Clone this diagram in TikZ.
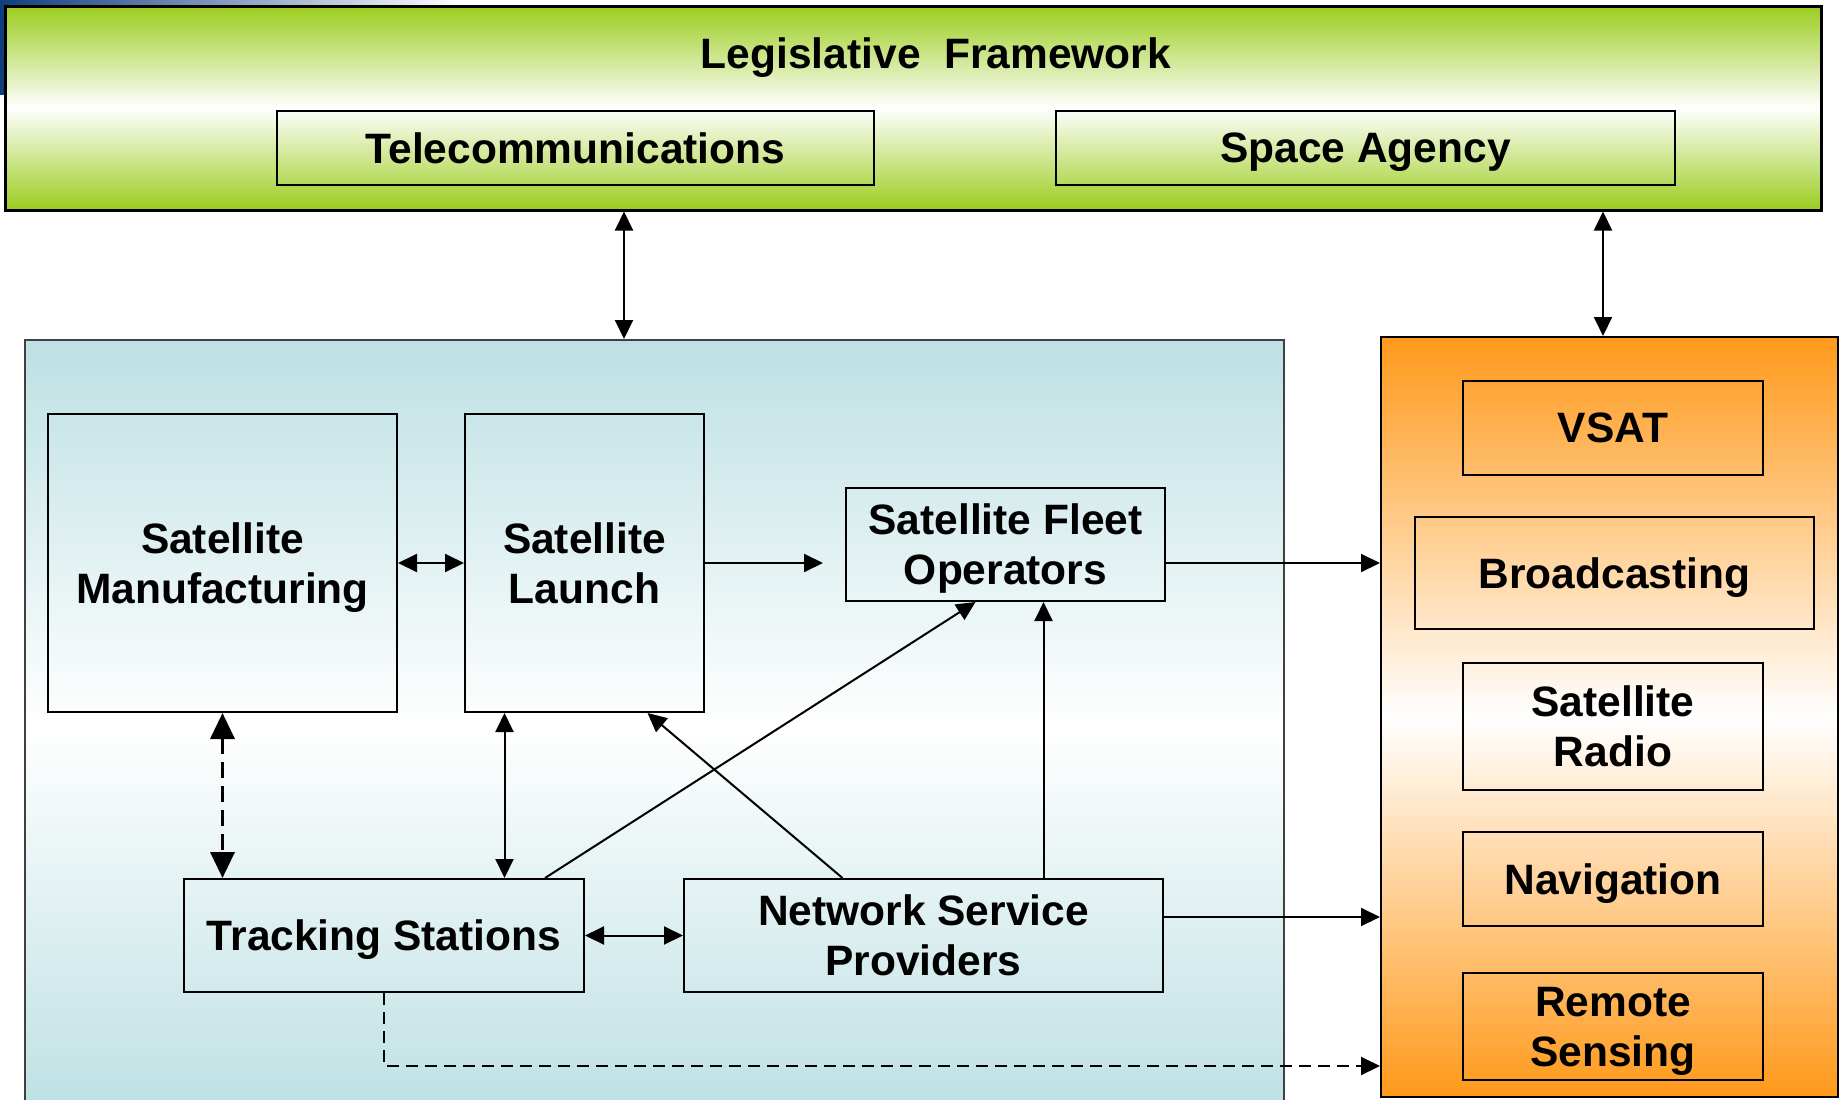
\documentclass[tikz,border=0pt]{standalone}
\usepackage{fontspec}
\setmainfont{Liberation Sans}
\usetikzlibrary{arrows.meta}

\definecolor{lawgreen}{RGB}{155,205,30}
\definecolor{segblue}{RGB}{189,224,227}
\definecolor{appsorange}{RGB}{255,153,26}
\definecolor{slideblue}{RGB}{16,62,125}

\tikzset{
	panel/.style={draw,inner sep=0pt},
	box/.style={draw,inner sep=0pt,align=center,text depth=0pt},
}

\begin{document}
\begin{tikzpicture}[x=1pt,y=-1pt,line width=2pt,
	font=\fontsize{42.5}{50}\selectfont\bfseries,
	>={Triangle[length=19pt,width=18pt]}]
	\useasboundingbox (0,0) rectangle (1840,1100);
	% slide background corner
	\shade[left color=slideblue,right color=white] (0,0) rectangle (460,8);
	\fill[slideblue] (0,0) rectangle (6,95);
	% frames
	\node[panel,line width=3pt,top color=lawgreen,bottom color=lawgreen,middle color=white,
		minimum width=1816pt,minimum height=204pt] (legis) at (913,108) {};
	\node[text depth=0pt] (legistitle) at (936,53) {Legislative~ Framework};
	\node[panel,draw=black!75,top color=segblue,bottom color=segblue,middle color=white,
		minimum width=1259pt,minimum height=775pt] (segment) at (654.5,727.5) {};
	\node[panel,top color=appsorange,bottom color=appsorange,middle color=white,
		minimum width=457pt,minimum height=760pt] (apps) at (1609.5,717) {};
	% regulators
	\node[box,minimum width=597pt,minimum height=74pt] (telecom) at (575.5,148) {Telecommunications};
	\node[box,minimum width=619pt,minimum height=74pt] (spaceag) at (1365.5,148) {Space Agency};
	% industry
	\node[box,minimum width=349pt,minimum height=298pt] (manuf) at (222.5,563) {Satellite\\Manufacturing};
	\node[box,minimum width=239pt,minimum height=298pt] (launch) at (584.5,563) {Satellite\\Launch};
	\node[box,minimum width=319pt,minimum height=113pt] (fleet) at (1005.5,544.5) {Satellite Fleet\\Operators};
	\node[box,minimum width=400pt,minimum height=113pt] (track) at (384,935.5) {Tracking Stations};
	\node[box,minimum width=479pt,minimum height=113pt] (nsp) at (923.5,935.5) {Network Service\\Providers};
	% applications
	\node[box,minimum width=300pt,minimum height=94pt] (vsat) at (1613,428) {VSAT};
	\node[box,minimum width=399pt,minimum height=112pt] (broad) at (1614.5,573) {Broadcasting};
	\node[box,minimum width=300pt,minimum height=127pt] (radio) at (1613,726.5) {Satellite\\Radio};
	\node[box,minimum width=300pt,minimum height=94pt] (navi) at (1613,879) {Navigation};
	\node[box,minimum width=300pt,minimum height=107pt] (remote) at (1613,1026.5) {Remote\\Sensing};
	% connectors
	\coordinate (telx) at (624,0);
	\coordinate (spax) at (1603,0);
	\coordinate (dashy) at (0,1066);
	\path[<->]
	(telx |- legis.south)		edge (telx |- segment.north)
	(spax |- legis.south)		edge (spax |- apps.north)
	(manuf.east)				edge (launch.west)
	([xshift=-80pt]launch.south)	edge ([xshift=-80pt]launch.south |- track.north)
	(track.east)				edge (nsp.west);
	\path[->]
	(launch.east)				edge[shorten >=22pt] (launch.east -| fleet.west)
	(fleet.east |- launch.east)	edge (apps.west |- launch.east)
	([xshift=161pt]track.north)	edge ([xshift=-30pt]fleet.south)
	([xshift=-81pt]nsp.north)	edge ([xshift=63pt]launch.south)
	([xshift=120pt]nsp.north)	edge ([xshift=120pt]nsp.north |- fleet.south)
	([yshift=18.5pt]nsp.east)	edge ([yshift=18.5pt]nsp.east -| apps.west);
	\draw[<->,line width=3.5pt,dash pattern=on 16pt off 8pt,>={Triangle[length=26pt,width=24pt]}]
		(manuf.south) -- (manuf.south |- track.north);
	\draw[->,dash pattern=on 12pt off 7pt] (track.south) |- (apps.west |- dashy);
\end{tikzpicture}
\end{document}
